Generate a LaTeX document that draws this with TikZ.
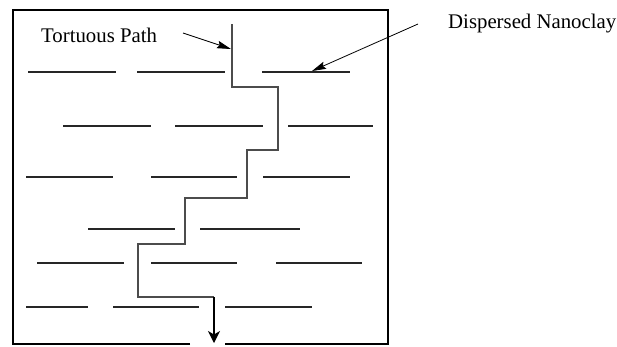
\documentclass[tikz,border=0pt]{standalone}
\usepackage{fontspec}
\setmainfont{Liberation Serif}
\usetikzlibrary{arrows.meta}
\begin{document}
\begin{tikzpicture}[x=1pt,y=-1pt,
  wall/.style={line width=2.8pt},
  clay/.style={line width=1.5pt, draw=black!85},
  route/.style={line width=1.2pt, draw=black!70},
  lbl/.style={font=\fontsize{20.8}{24}\selectfont, inner sep=0pt, anchor=base west},
  pointer/.style={line width=0.8pt, -{Stealth[length=14pt,width=7.5pt,inset=2pt]}}]
\useasboundingbox (0,0) rectangle (617,346);

% container walls, with an opening at the bottom
\draw[wall] (190,344) -- (13,344) -- (13,10) -- (388,10) -- (388,344) -- (225,344);

% dispersed clay platelets
\foreach \y/\list in {72/{28/116,137/225,262/350},
                      126/{63/151,175/263,288/373},
                      177/{26/113,151/237,263/350},
                      229/{88/175,200/300},
                      263/{37/124,151/237,276/362},
                      307/{26/88,113/199,225/312}}{
  \foreach \a/\b in \list { \draw[clay] (\a,\y) -- (\b,\y); }
}

% tortuous diffusion path
\coordinate (p0) at (232,24);
\coordinate (p1) at (232,87);
\coordinate (p2) at (278,87);
\coordinate (p3) at (278,150);
\coordinate (p4) at (247,150);
\coordinate (p5) at (247,198);
\coordinate (p6) at (185,198);
\coordinate (p7) at (185,244);
\coordinate (p8) at (138,244);
\coordinate (p9) at (138,297);
\coordinate (p10) at (214,297);
\coordinate (pend) at (214,343);
\draw[route] (p0) -- (p1) -- (p2) -- (p3) -- (p4) -- (p5) -- (p6) -- (p7) -- (p8) -- (p9) -- (p10);
\draw[line width=1.2pt, -{Stealth[length=12pt,width=12pt,inset=3.5pt]}] (p10) -- (pend);

% labels and pointers
\node[lbl] (tp) at (41,42) {Tortuous Path};
\node[lbl] (dn) at (448,28) {Dispersed Nanoclay};
\coordinate (tpfrom) at (183,33);
\coordinate (tpto) at (231,49);
\coordinate (dnfrom) at (418,24);
\coordinate (dnto) at (312,71);
\draw[pointer] (tpfrom) -- (tpto);
\draw[pointer] (dnfrom) -- (dnto);
\end{tikzpicture}
\end{document}
